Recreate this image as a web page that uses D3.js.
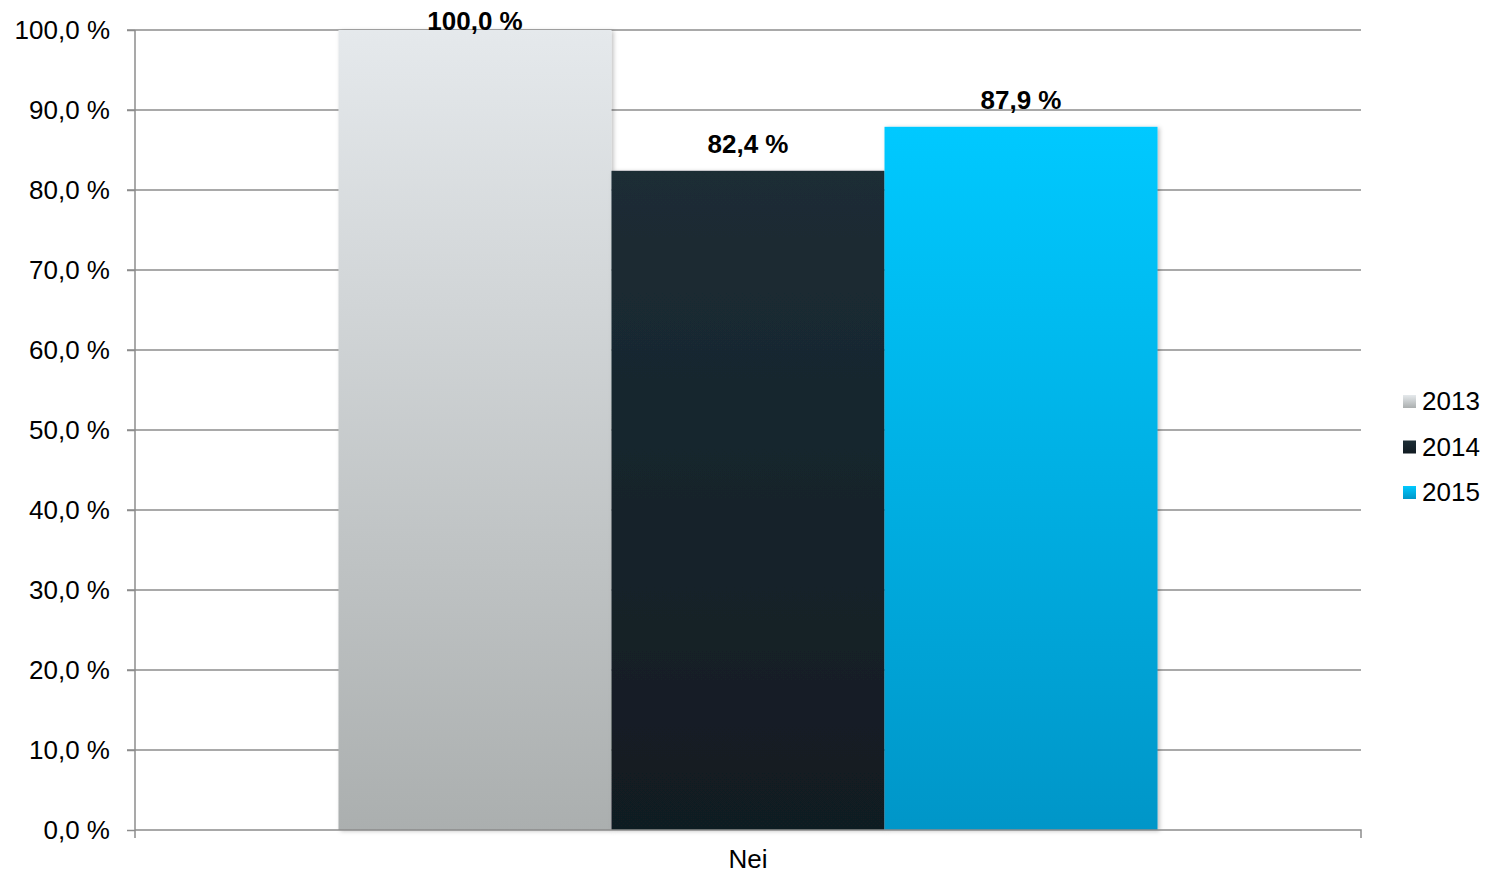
<!DOCTYPE html>
<html>
<head>
<meta charset="utf-8">
<script src="https://cdn.jsdelivr.net/npm/d3@7"></script>
<style>
  html, body { margin: 0; padding: 0; background: #ffffff; }
  svg { display: block; font-family: "Liberation Sans", Arial, sans-serif; }
</style>
</head>
<body>
<svg id="chart" width="1494" height="875"></svg>
<script>
const categories = ["Nei"];
const seriesNames = ["2013", "2014", "2015"];
const values2013 = [100.0];
const values2014 = [82.4];
const values2015 = [87.9];
const yTicks = [0, 10, 20, 30, 40, 50, 60, 70, 80, 90, 100];

const seriesValues = [values2013, values2014, values2015];
const gradStops = [
  ["#e5e9ec", "#abafaf"],
  ["#1c2d35", "#111b22"],
  ["#00c9ff", "#0096c8"]
];

const svg = d3.select("#chart");
const plotLeft = 135, plotRight = 1361, plotTop = 30, plotBottom = 830;

const x0 = d3.scaleBand().domain(categories).range([plotLeft, plotRight]).paddingInner(0.199).paddingOuter(0.199);
const x1 = d3.scaleBand().domain(seriesNames).range([0, x0.bandwidth()]).padding(0);
const y = d3.scaleLinear().domain([0, 100]).range([plotBottom, plotTop]);

const fmt = v => d3.format(".1f")(v).replace(".", ",") + " %";

const defs = svg.append("defs");
seriesNames.forEach((s, i) => {
  const g = defs.append("linearGradient").attr("id", "g" + i)
    .attr("x1", 0).attr("y1", 0).attr("x2", 0).attr("y2", 1);
  g.append("stop").attr("offset", "0%").attr("stop-color", gradStops[i][0]);
  g.append("stop").attr("offset", "100%").attr("stop-color", gradStops[i][1]);
});
const filt = defs.append("filter").attr("id", "shadow")
  .attr("x", "-10%").attr("y", "-10%").attr("width", "120%").attr("height", "120%");
filt.append("feDropShadow").attr("dx", 2).attr("dy", 1).attr("stdDeviation", 2)
  .attr("flood-color", "#000").attr("flood-opacity", 0.25);

// gridlines
svg.append("g").selectAll("line").data(yTicks.filter(t => t > 0)).join("line")
  .attr("x1", plotLeft - 8).attr("x2", plotRight)
  .attr("y1", d => y(d)).attr("y2", d => y(d))
  .attr("stroke", "#8c8c8c").attr("stroke-width", 1.5);

// y axis
const yAxis = svg.append("g").attr("transform", `translate(${plotLeft},0)`)
  .call(d3.axisLeft(y).tickValues(yTicks).tickSize(8).tickPadding(17).tickFormat(fmt));
yAxis.select(".domain").attr("stroke", "#8c8c8c").attr("stroke-width", 1.5)
  .attr("d", `M0,${plotTop}V${plotBottom + 8}`);
yAxis.selectAll(".tick line").attr("stroke", "#8c8c8c").attr("stroke-width", 1.5);
yAxis.selectAll(".tick text").attr("font-size", 26).attr("fill", "#000")
  .attr("font-family", "Liberation Sans, Arial, sans-serif");

// bars
const groups = svg.append("g").selectAll("g").data(categories).join("g")
  .attr("transform", d => `translate(${x0(d)},0)`);
seriesNames.forEach((s, i) => {
  groups.append("rect")
    .attr("x", x1(s))
    .attr("y", (d, ci) => y(seriesValues[i][ci]))
    .attr("width", x1.bandwidth())
    .attr("height", (d, ci) => y(0) - y(seriesValues[i][ci]))
    .attr("fill", `url(#g${i})`)
    .attr("filter", "url(#shadow)");
});

// x axis
const xAxis = svg.append("g").attr("transform", `translate(0,${plotBottom})`)
  .call(d3.axisBottom(x0).tickSize(0).tickPadding(20));
xAxis.select(".domain").attr("stroke", "#8c8c8c").attr("stroke-width", 1.5)
  .attr("d", `M${plotLeft},0H${plotRight}V8`);
xAxis.selectAll(".tick text").attr("font-size", 26).attr("fill", "#000")
  .attr("font-family", "Liberation Sans, Arial, sans-serif");

// value labels
seriesNames.forEach((s, i) => {
  groups.append("text")
    .attr("x", x1(s) + x1.bandwidth() / 2)
    .attr("y", (d, ci) => Math.max(y(seriesValues[i][ci]) - 18, plotTop))
    .attr("text-anchor", "middle")
    .attr("font-size", 26).attr("font-weight", "bold").attr("fill", "#000")
    .text((d, ci) => fmt(seriesValues[i][ci]));
});

// legend
const legend = svg.append("g").attr("transform", "translate(1403,401)");
seriesNames.forEach((s, i) => {
  const row = legend.append("g").attr("transform", `translate(0,${i * 45.5})`);
  row.append("rect").attr("x", 0).attr("y", -6).attr("width", 13).attr("height", 13)
    .attr("fill", `url(#g${i})`);
  row.append("text").attr("x", 19).attr("y", 0).attr("dy", "0.35em")
    .attr("font-size", 26).attr("fill", "#000").text(s);
});
</script>
</body>
</html>
